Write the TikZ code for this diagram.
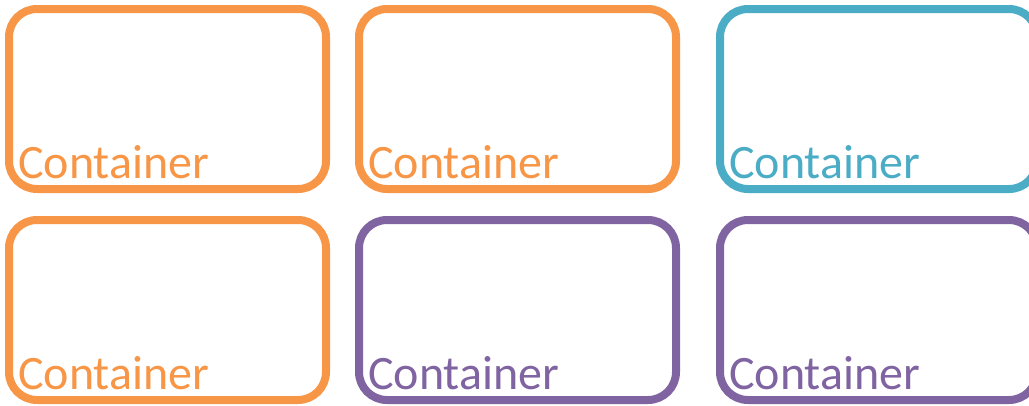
\documentclass[tikz,border=0pt]{standalone}
\usepackage{fontspec}
\setmainfont{Carlito}
\usetikzlibrary{positioning}

\definecolor{ctorange}{HTML}{F79646}
\definecolor{ctaqua}{HTML}{4BACC6}
\definecolor{ctpurple}{HTML}{8064A2}

\tikzset{
  ctbox/.style={draw=#1, line width=8pt, rounded corners=28pt,
    minimum width=317pt, minimum height=180pt, inner sep=0pt, outer sep=0pt},
  ctlabel/.style={text=#1, anchor=base west, inner sep=0pt,
    font=\fontsize{48pt}{48pt}\selectfont}
}

\begin{document}
\begin{tikzpicture}
      \useasboundingbox (0,0) rectangle (1029pt,-405pt);

      \node[ctbox=ctorange] (c1) at (167.5pt,-99pt) {};
      \node[ctbox=ctorange,right=33pt of c1] (c2) {};
      \node[ctbox=ctaqua,right=44pt of c2] (c3) {};
      \node[ctbox=ctorange,below=31pt of c1] (c4) {};
      \node[ctbox=ctpurple,right=33pt of c4] (c5) {};
      \node[ctbox=ctpurple,right=44pt of c5] (c6) {};

      \node[ctlabel=ctorange] (l1) at ([shift={(9pt,11pt)}]c1.south west) {Container};
      \node[ctlabel=ctorange] (l2) at ([shift={(9pt,11pt)}]c2.south west) {Container};
      \node[ctlabel=ctaqua] (l3) at ([shift={(9pt,11pt)}]c3.south west) {Container};
      \node[ctlabel=ctorange] (l4) at ([shift={(9pt,11pt)}]c4.south west) {Container};
      \node[ctlabel=ctpurple] (l5) at ([shift={(9pt,11pt)}]c5.south west) {Container};
      \node[ctlabel=ctpurple] (l6) at ([shift={(9pt,11pt)}]c6.south west) {Container};
    \end{tikzpicture}
\end{document}
